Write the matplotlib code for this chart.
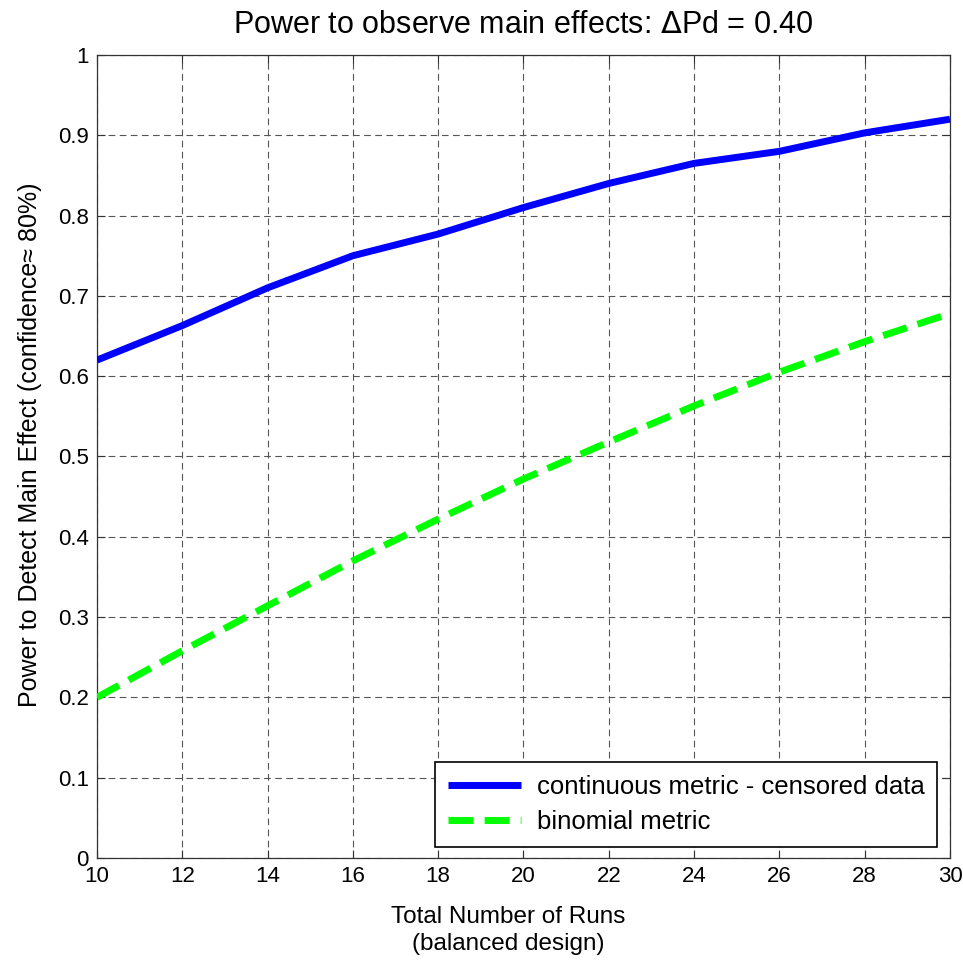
import matplotlib
matplotlib.use("Agg")
import matplotlib.pyplot as plt

plt.rcParams['font.family'] = ['Liberation Sans', 'DejaVu Sans']

runs = [10, 12, 14, 16, 18, 20, 22, 24, 26, 28, 30]
continuous = [0.620, 0.663, 0.710, 0.750, 0.777, 0.810, 0.840, 0.865, 0.880, 0.903, 0.920]
binomial = [0.200, 0.258, 0.314, 0.370, 0.422, 0.472, 0.518, 0.563, 0.605, 0.643, 0.678]
xticks = [10, 12, 14, 16, 18, 20, 22, 24, 26, 28, 30]
yticks = [0, 0.1, 0.2, 0.3, 0.4, 0.5, 0.6, 0.7, 0.8, 0.9, 1]
ytick_labels = ['0', '0.1', '0.2', '0.3', '0.4', '0.5', '0.6', '0.7', '0.8', '0.9', '1']

fig = plt.figure(figsize=(9.63, 9.61), dpi=100)
ax = fig.add_axes([0.1007, 0.1072, 0.8858, 0.8356])

ax.plot(runs, continuous, color='#0000ff', lw=5, solid_capstyle='butt',
        label='continuous metric - censored data', zorder=3)
ax.plot(runs, binomial, color='#00ff00', lw=5, linestyle=(0, (3.6, 1.6)),
        dash_capstyle='butt', label='binomial metric', zorder=3)

ax.set_xlim(10, 30)
ax.set_ylim(0, 1)
ax.set_xticks(xticks)
ax.set_yticks(yticks)
ax.set_yticklabels(ytick_labels)
ax.grid(True, color='#555555', linestyle=(0, (6, 4)), linewidth=0.8)
ax.tick_params(direction='in', top=True, right=True, labelsize=16, length=6, pad=6,
               color='#333333')
for s in ax.spines.values():
    s.set_linewidth(0.9)
    s.set_color('#333333')

ax.set_title('Power to observe main effects: $\\Delta$Pd = 0.40', fontsize=22, pad=15.5)
ax.set_xlabel('Total Number of Runs\n(balanced design)', fontsize=17.5,
              linespacing=1.3)
ax.xaxis.set_label_coords(0.482, -0.060)
ax.xaxis.label.set_verticalalignment('top')
ax.set_ylabel('Power to Detect Main Effect (confidence\u2248 80%)', fontsize=18)
ax.yaxis.set_label_coords(-0.064, 0.514)

leg = ax.legend(loc='lower right', fontsize=18.5, fancybox=False, framealpha=1,
                edgecolor='black', handlelength=2.85, handletextpad=0.6,
                borderpad=0.5, labelspacing=0.45, borderaxespad=0,
                bbox_to_anchor=(0.985, 0.0135))
leg.get_frame().set_linewidth(1.2)

fig.savefig('out.png', dpi=100)
